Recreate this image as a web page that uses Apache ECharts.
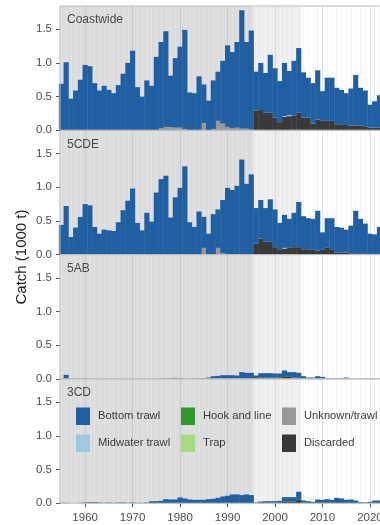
<!DOCTYPE html>
<html><head><meta charset="utf-8">
<script src="https://cdn.jsdelivr.net/npm/echarts@6/dist/echarts.min.js"></script>
<style>html,body{margin:0;padding:0;background:#fff;overflow:hidden;width:380px;height:525px}
#c{width:420px;height:525px}</style>
</head><body><div id="c"></div>
<script>
// ---------- data ----------
const years = [1955,1956,1957,1958,1959,1960,1961,1962,1963,1964,
  1965,1966,1967,1968,1969,1970,1971,1972,1973,1974,
  1975,1976,1977,1978,1979,1980,1981,1982,1983,1984,
  1985,1986,1987,1988,1989,1990,1991,1992,1993,1994,
  1995,1996,1997,1998,1999,2000,2001,2002,2003,2004,
  2005,2006,2007,2008,2009,2010,2011,2012,2013,2014,
  2015,2016,2017,2018,2019,2020,2021,2022];
const areas = ['Coastwide','5CDE','5AB','3CD'];
const gears = ['Bottom trawl','Midwater trawl','Hook and line','Trap','Unknown/trawl','Discarded'];
const xTicks = [1960,1970,1980,1990,2000,2010,2020];
const yTicks = [0,0.5,1.0,1.5];

// Coastwide
const coastBottom = [0.69,1.01,0.47,0.59,0.75,0.97,0.95,0.70,0.59,0.66,
  0.60,0.55,0.67,0.84,1.00,1.18,0.64,0.50,0.74,0.66,
  1.09,1.28,1.42,0.76,1.03,1.20,1.47,0.56,0.55,0.80,
  0.57,0.44,0.72,0.73,0.93,1.21,1.13,1.27,1.755,1.285,
  1.47,0.58,0.70,0.59,0.86,0.73,0.61,0.79,0.655,0.81,
  0.96,0.67,0.59,0.60,0.73,0.44,0.64,0.64,0.54,0.52,
  0.47,0.55,0.75,0.56,0.53,0.34,0.39,0.48];
const coastMidwater = [0,0,0,0,0,0,0,0,0,0, 0,0,0,0,0,0,0,0,0,0, 0,0,0,0,0,0,0,0,0,0,
  0,0,0,0,0,0,0,0,0,0, 0,0,0,0,0,0,0,0.01,0.015,0, 0,0,0,0,0,0,0,0,0,0, 0,0,0,0,0,0,0,0];
const coastUnknown = [0,0,0,0,0,0,0,0,0,0, 0,0,0,0,0,0,0,0,0,0,
  0,0.03,0.05,0.05,0.04,0.04,0.02,0,0,0,
  0.11,0,0.02,0.14,0.10,0.05,0.03,0.04,0.025,0.025,
  0.01,0,0,0,0,0,0,0,0,0, 0,0,0,0,0,0,0,0,0,0, 0,0,0,0,0,0,0,0];
const coastDiscard = [0,0,0,0,0,0,0,0,0,0, 0,0,0,0,0,0,0,0,0,0, 0,0,0,0,0,0,0,0,0,0, 0,0,0,0,0,0,0,0,0,0,
  0,0.29,0.30,0.26,0.26,0.19,0.12,0.20,0.21,0.22,
  0.26,0.19,0.19,0.10,0.16,0.14,0.14,0.14,0.09,0.08,
  0.08,0.07,0.07,0.07,0.06,0.04,0.04,0.04];

// 5CDE
const cdeBottom = [0.44,0.72,0.26,0.40,0.56,0.75,0.73,0.41,0.31,0.37,
  0.36,0.35,0.48,0.66,0.80,0.98,0.47,0.36,0.62,0.49,
  0.92,1.12,1.17,0.55,0.85,0.99,1.31,0.48,0.41,0.64,
  0.46,0.31,0.60,0.57,0.79,0.98,0.96,1.02,1.41,1.05,
  1.19,0.53,0.57,0.50,0.63,0.56,0.39,0.49,0.43,0.51,
  0.67,0.49,0.47,0.46,0.59,0.26,0.44,0.46,0.38,0.37,
  0.34,0.41,0.63,0.51,0.44,0.30,0.29,0.40];
const cdeMidwater = [0,0,0,0,0,0,0,0,0,0, 0,0,0,0,0,0,0,0,0,0, 0,0,0,0,0,0,0,0,0,0,
  0,0,0,0,0,0,0,0,0,0, 0,0,0,0,0,0,0,0.01,0,0, 0,0,0,0,0,0,0,0,0,0, 0,0,0,0,0,0,0,0];
const cdeUnknown = [0,0,0,0,0,0,0,0,0,0, 0,0,0,0,0,0,0,0,0,0, 0,0,0,0,0,0,0,0,0,0,
  0.10,0,0,0.10,0.02,0.01,0,0,0,0,
  0,0,0,0,0,0,0,0,0,0, 0,0,0,0,0,0,0,0,0,0, 0,0,0,0,0,0,0,0];
const cdeDiscard = [0,0,0,0,0,0,0,0,0,0, 0,0,0,0,0,0,0,0,0,0, 0,0,0,0,0,0,0,0,0,0, 0,0,0,0,0,0,0,0,0,0,
  0,0.16,0.24,0.19,0.19,0.11,0.08,0.09,0.10,0.11,
  0.11,0.08,0.07,0.07,0.06,0.07,0.10,0.08,0.03,0.03,
  0.03,0.02,0.02,0.02,0.02,0.01,0.01,0.01];

// 5AB
const abBottom = [0,0.06,0,0.005,0.005,0.005,0.005,0,0,0,
  0,0,0,0,0,0,0,0,0,0,
  0,0.005,0.01,0.01,0.015,0.01,0.005,0,0.005,0.01,
  0.01,0.02,0.04,0.045,0.055,0.055,0.055,0.05,0.10,0.09,
  0.09,0.04,0.065,0.065,0.065,0.06,0.06,0.095,0.07,0.08,
  0.07,0.03,0.02,0.02,0.04,0.03,0.01,0.01,0.005,0.01,
  0.02,0.005,0,0,0,0,0.005,0];
const abDiscard = [0,0,0,0,0,0,0,0,0,0, 0,0,0,0,0,0,0,0,0,0, 0,0,0,0,0,0,0,0,0,0, 0,0,0,0,0,0,0,0,0,0,
  0,0.01,0.02,0.02,0.02,0.02,0.02,0.03,0.03,0.02,
  0.02,0.01,0,0,0,0,0,0,0,0, 0,0,0,0,0,0,0,0];

// 3CD
const cdBottom = [0.005,0.005,0,0,0.005,0.01,0.015,0.015,0.01,0.005,
  0.01,0.005,0.01,0.01,0.005,0.01,0.005,0.005,0.01,0.03,
  0.03,0.035,0.06,0.055,0.055,0.085,0.07,0.055,0.05,0.05,
  0.05,0.06,0.065,0.08,0.10,0.11,0.13,0.13,0.12,0.13,
  0.12,0.005,0.02,0.025,0.025,0.025,0.03,0.07,0.065,0.065,
  0.12,0.03,0.03,0.02,0.04,0.035,0.045,0.05,0.08,0.07,
  0.05,0.055,0.04,0.015,0.01,0.02,0.04,0.04];
const cdDiscard = [0,0,0,0,0,0,0,0,0,0, 0,0,0,0,0,0,0,0,0,0, 0,0,0,0,0,0,0,0,0,0, 0,0,0,0,0,0,0,0,0,0,
  0,0.005,0.005,0.005,0.005,0.005,0.005,0.02,0.025,0.025,
  0.05,0.01,0,0,0.015,0.015,0.015,0,0,0, 0,0,0,0,0,0,0,0];

const empty = [];

// ---------- layout / style ----------
const FONT = 'Liberation Sans, Arial, Helvetica, sans-serif';
const gearColors = {
  'Bottom trawl':'#1f5fa2', 'Midwater trawl':'#9ecae1', 'Hook and line':'#2e9a2e',
  'Trap':'#a6dc80', 'Unknown/trawl':'#999999', 'Discarded':'#393939'
};
const panelSeries = [
  {'Bottom trawl':coastBottom,'Midwater trawl':coastMidwater,'Hook and line':empty,'Trap':empty,'Unknown/trawl':coastUnknown,'Discarded':coastDiscard},
  {'Bottom trawl':cdeBottom,'Midwater trawl':cdeMidwater,'Hook and line':empty,'Trap':empty,'Unknown/trawl':cdeUnknown,'Discarded':cdeDiscard},
  {'Bottom trawl':abBottom,'Midwater trawl':empty,'Hook and line':empty,'Trap':empty,'Unknown/trawl':empty,'Discarded':abDiscard},
  {'Bottom trawl':cdBottom,'Midwater trawl':empty,'Hook and line':empty,'Trap':empty,'Unknown/trawl':empty,'Discarded':cdDiscard}
];
const stackOrder = ['Discarded','Unknown/trawl','Trap','Hook and line','Midwater trawl','Bottom trawl'];

const gridLeft = 60, plotW = 331.3, gridH = 124.3;
const gridTops = [6, 130.3, 254.6, 378.9];
const xMin = 1954.7, xMax = 2024.5, yMax = 1.844;
const barW = plotW / (xMax - xMin) + 0.4;
const shadeEnd1 = 1995.5, shadeEnd2 = 2005.5;

function yearLine(y){
  const dec = y % 10 === 0;
  let c;
  if (y < shadeEnd1) c = dec ? '#c9c9c9' : '#e5e5e5';
  else if (y < shadeEnd2) c = dec ? '#dadada' : '#f5f5f5';
  else c = dec ? '#e2e2e2' : '#f1f1f1';
  return {xAxis: y, lineStyle: {color: c, width: dec ? 1 : 0.8, type: 'solid'}};
}

const grid = [], xAxis = [], yAxis = [], series = [], graphic = [];
areas.forEach((name, i) => {
  grid.push({left: gridLeft, top: gridTops[i], width: plotW, height: gridH,
    show: true, borderColor: '#bdbdbd', borderWidth: 1, backgroundColor: 'transparent', z: 10});
  const last = i === areas.length - 1;
  xAxis.push({gridIndex: i, type: 'value', min: xMin, max: xMax,
    axisLine: {show: false}, splitLine: {show: false},
    axisTick: {show: last, length: 4, customValues: xTicks, lineStyle: {color: '#555', width: 1}},
    axisLabel: {show: last, customValues: xTicks, formatter: v => String(v), color: '#4d4d4d',
      fontSize: 11.5, fontFamily: FONT, margin: 8.5}});
  yAxis.push({gridIndex: i, type: 'value', min: 0, max: yMax,
    axisLine: {show: false}, splitLine: {show: false},
    axisTick: {show: true, length: 4, customValues: yTicks, lineStyle: {color: '#555', width: 1}},
    axisLabel: {customValues: yTicks, formatter: v => v.toFixed(1), color: '#4d4d4d',
      fontSize: 11.5, fontFamily: FONT, margin: 8, padding: [5, 0, 0, 0]}});
  // background shading
  series.push({type: 'line', xAxisIndex: i, yAxisIndex: i, data: [[2000, 0]], symbol: 'none',
    lineStyle: {opacity: 0}, silent: true, z: 0, animation: false,
    markArea: {silent: true, animation: false, z: 0, data: [
      [{xAxis: xMin, itemStyle: {color: '#dcdcdc'}}, {xAxis: shadeEnd1}],
      [{xAxis: shadeEnd1, itemStyle: {color: '#ededed'}}, {xAxis: shadeEnd2}]
    ]}});
  // yearly grid lines
  series.push({type: 'line', xAxisIndex: i, yAxisIndex: i, data: [[2000, 0]], symbol: 'none',
    lineStyle: {opacity: 0}, silent: true, z: 1, animation: false,
    markLine: {silent: true, animation: false, z: 1, symbol: ['none', 'none'], label: {show: false},
      emphasis: {disabled: true}, data: years.map(yearLine)}});
  stackOrder.forEach(g => {
    const vals = panelSeries[i][g];
    // value first, year second, so the stacked dimension is the catch value
    series.push({name: g, type: 'bar', xAxisIndex: i, yAxisIndex: i, stack: 'p' + i,
      barWidth: barW, silent: true, z: 3, animation: false,
      itemStyle: {color: gearColors[g]},
      encode: {x: 1, y: 0},
      data: vals.map((v, k) => [v, years[k]])});
  });
  graphic.push({type: 'text', x: 67, y: gridTops[i] + 14, z: 20,
    style: {text: name, fill: '#4a4a4a', font: '12px ' + FONT, align: 'left', verticalAlign: 'middle'}});
});
graphic.push({type: 'text', x: 22, y: 257, rotation: Math.PI / 2, z: 20,
  style: {text: 'Catch (1000 t)', fill: '#222', font: '15px ' + FONT, align: 'center', verticalAlign: 'middle'}});

const legendCols = [[gears[0], gears[1]], [gears[2], gears[3]], [gears[4], gears[5]]];
const legendLefts = [76, 181, 282];
const legend = legendCols.map((d, j) => ({
  data: d, left: legendLefts[j], top: 407.5, orient: 'vertical', padding: 0, z: 15,
  itemWidth: 14, itemHeight: 17.5, itemGap: 9.5, icon: 'rect', selectedMode: false,
  textStyle: {color: '#3b3b3b', fontSize: 11.2, fontFamily: FONT, padding: [0, 0, 0, 3]}
}));

const chart = echarts.init(document.getElementById('c'), null, {renderer: 'canvas'});
chart.setOption({animation: false, grid, xAxis, yAxis, series, legend, graphic});
</script></body></html>
